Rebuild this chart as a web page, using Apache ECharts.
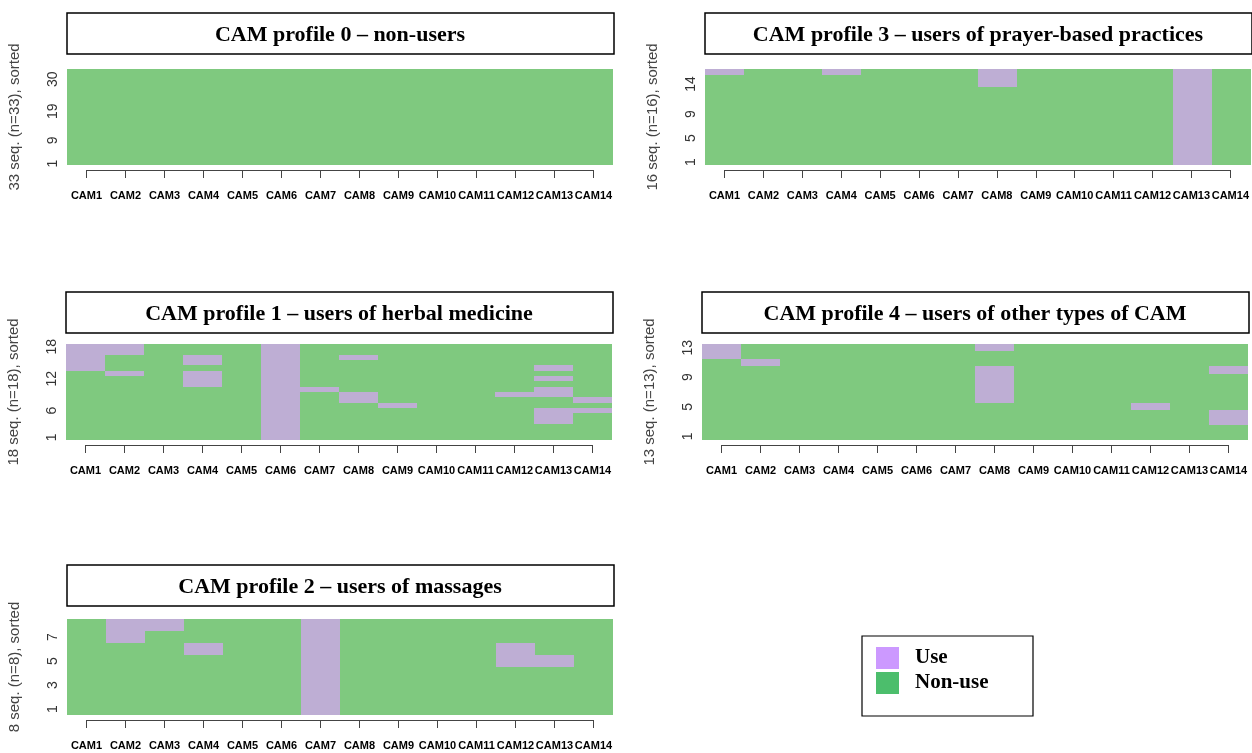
<!DOCTYPE html>
<html><head><meta charset="utf-8">
<script src="https://cdn.jsdelivr.net/npm/echarts@6/dist/echarts.min.js"></script>
<style>html,body{margin:0;padding:0;background:#fff}#c{width:1252px;height:753px}</style>
</head><body><div id="c"></div>
<script>
const categories = ['CAM1','CAM2','CAM3','CAM4','CAM5','CAM6','CAM7','CAM8','CAM9','CAM10','CAM11','CAM12','CAM13','CAM14'];

// Each string is one sequence; rows listed from the top sequence (n) down to sequence 1.
// Character k is CAM(k+1): '1' = Use, '0' = Non-use.
const profile0 = [
 '00000000000000','00000000000000','00000000000000','00000000000000','00000000000000',
 '00000000000000','00000000000000','00000000000000','00000000000000','00000000000000',
 '00000000000000','00000000000000','00000000000000','00000000000000','00000000000000',
 '00000000000000','00000000000000','00000000000000','00000000000000','00000000000000',
 '00000000000000','00000000000000','00000000000000','00000000000000','00000000000000',
 '00000000000000','00000000000000','00000000000000','00000000000000','00000000000000',
 '00000000000000','00000000000000','00000000000000'
];
const profile1 = [
 '11000100000000', // 18
 '11000100000000', // 17
 '10010101000000', // 16
 '10010100000000', // 15
 '10000100000010', // 14
 '01010100000000', // 13
 '00010100000010', // 12
 '00010100000000', // 11
 '00000110000010', // 10
 '00000101000110', // 9
 '00000101000001', // 8
 '00000100100000', // 7
 '00000100000011', // 6
 '00000100000010', // 5
 '00000100000010', // 4
 '00000100000000', // 3
 '00000100000000', // 2
 '00000100000000'  // 1
];
const profile2 = [
 '01100010000000', // 8
 '01000010000000', // 7
 '00010010000100', // 6
 '00000010000110', // 5
 '00000010000000', // 4
 '00000010000000', // 3
 '00000010000000', // 2
 '00000010000000'  // 1
];
const profile3 = [
 '10010001000010', // 16
 '00000001000010', // 15
 '00000001000010', // 14
 '00000000000010','00000000000010','00000000000010','00000000000010','00000000000010',
 '00000000000010','00000000000010','00000000000010','00000000000010','00000000000010',
 '00000000000010','00000000000010','00000000000010' // 13..1
];
const profile4 = [
 '10000001000000', // 13
 '10000000000000', // 12
 '01000000000000', // 11
 '00000001000001', // 10
 '00000001000000', // 9
 '00000001000000', // 8
 '00000001000000', // 7
 '00000001000000', // 6
 '00000000000100', // 5
 '00000000000001', // 4
 '00000000000001', // 3
 '00000000000000', // 2
 '00000000000000'  // 1
];

const titles = [
 'CAM profile 0 \u2013 non-users',
 'CAM profile 1 \u2013 users of herbal medicine',
 'CAM profile 2 \u2013 users of massages',
 'CAM profile 3 \u2013 users of prayer-based practices',
 'CAM profile 4 \u2013 users of other types of CAM'
];
const yNames = ['33 seq. (n=33), sorted','18 seq. (n=18), sorted','8 seq. (n=8), sorted','16 seq. (n=16), sorted','13 seq. (n=13), sorted'];
const yTicks0 = ['1','9','19','30'];
const yTicks1 = ['1','6','12','18'];
const yTicks2 = ['1','3','5','7'];
const yTicks3 = ['1','5','9','14'];
const yTicks4 = ['1','5','9','13'];
const legendLabels = ['Use','Non-use'];
const cellColors = ['#7FC97F','#BEAED4']; // Non-use, Use
const legendColors = ['#CC99FF','#4CBE6C'];

const W = 546, H = 96;
const panels = [
 {rows:profile0, ticks:yTicks0, title:titles[0], name:yNames[0], left:67,  top:69,  boxTop:13},
 {rows:profile1, ticks:yTicks1, title:titles[1], name:yNames[1], left:66,  top:344, boxTop:292},
 {rows:profile2, ticks:yTicks2, title:titles[2], name:yNames[2], left:67,  top:619, boxTop:565},
 {rows:profile3, ticks:yTicks3, title:titles[3], name:yNames[3], left:705, top:69,  boxTop:13},
 {rows:profile4, ticks:yTicks4, title:titles[4], name:yNames[4], left:702, top:344, boxTop:292}
];

function renderCell(params, api) {
  const p = api.coord([api.value(0), api.value(1)]);
  const s = api.size([1, 1]);
  const x0 = Math.round(p[0] - s[0] / 2), x1 = Math.round(p[0] + s[0] / 2);
  const y0 = Math.round(p[1] - s[1] / 2), y1 = Math.round(p[1] + s[1] / 2);
  return {type:'rect', shape:{x:x0, y:y0, width:x1 - x0, height:y1 - y0},
    style:{fill:cellColors[api.value(2)]}};
}

const grid = [], xAxis = [], yAxis = [], series = [], graphic = [];
const sans = 'Liberation Sans';
panels.forEach((p, i) => {
  const n = p.rows.length;
  const seqLabels = p.rows.map((r, k) => String(k + 1));
  const g = 2 * i;
  grid.push({left:p.left, top:p.top, width:W, height:H});
  grid.push({left:p.left + W / 28, top:p.top + 100, width:W * 13 / 14, height:1});
  xAxis.push({gridIndex:g, type:'category', data:categories, show:false});
  xAxis.push({gridIndex:g + 1, type:'category', data:categories, boundaryGap:false,
    axisLine:{lineStyle:{color:'#444', width:1}},
    axisTick:{length:8, lineStyle:{color:'#444'}},
    axisLabel:{interval:0, margin:20, color:'#000', fontWeight:'bold', fontSize:11,
      fontFamily:'"Liberation Sans Narrow", "Liberation Sans", Arial'},
    splitLine:{show:false}});
  yAxis.push({gridIndex:g, type:'category', data:seqLabels,
    axisLine:{show:false}, axisTick:{show:false}, splitLine:{show:false},
    axisLabel:{interval:(idx, val) => p.ticks.includes(val), rotate:90, margin:7,
      fontSize:14, color:'#333', fontFamily:sans},
    name:p.name, nameLocation:'middle', nameGap:45, nameRotate:90,
    nameTextStyle:{fontSize:15, color:'#444', fontFamily:sans}});
  yAxis.push({gridIndex:g + 1, type:'value', show:false});
  const data = [];
  p.rows.forEach((r, k) => {
    const seq = n - 1 - k;
    for (let c = 0; c < categories.length; c++) data.push([c, seq, Number(r[c])]);
  });
  series.push({type:'custom', xAxisIndex:g, yAxisIndex:g, data:data,
    encode:{x:0, y:1}, renderItem:renderCell, silent:true, animation:false});
  graphic.push({type:'rect', shape:{x:p.left, y:p.boxTop, width:W + 1, height:41},
    style:{fill:'#fff', stroke:'#000', lineWidth:1.5}});
  graphic.push({type:'text', x:p.left + W / 2, y:p.boxTop + 22,
    style:{text:p.title, font:'bold 22px "Liberation Serif", serif', fill:'#000',
      align:'center', verticalAlign:'middle', textAlign:'center', textVerticalAlign:'middle'}});
});

// legend box
graphic.push({type:'rect', shape:{x:862, y:636, width:171, height:80}, style:{fill:'#fff', stroke:'#000', lineWidth:1.2}});
legendLabels.forEach((lab, i) => {
  graphic.push({type:'rect', shape:{x:876, y:647 + i * 25, width:23, height:22}, style:{fill:legendColors[i]}});
  graphic.push({type:'text', x:915, y:658 + i * 25,
    style:{text:lab, font:'bold 21px "Liberation Serif", serif', fill:'#000',
      align:'left', verticalAlign:'middle', textAlign:'left', textVerticalAlign:'middle'}});
});

const chart = echarts.init(document.getElementById('c'), null, {renderer:'canvas'});
chart.setOption({
  animation:false,
  backgroundColor:'#fff',
  grid, xAxis, yAxis, series, graphic
});
</script></body></html>
